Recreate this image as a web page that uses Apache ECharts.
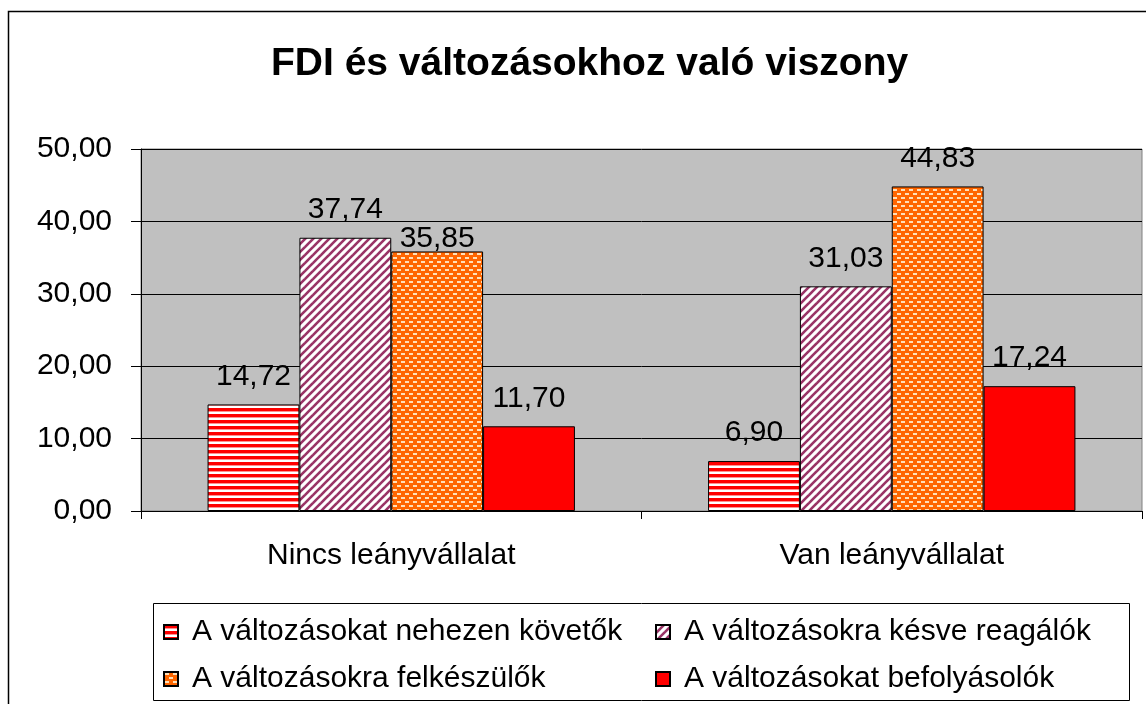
<!DOCTYPE html>
<html>
<head>
<meta charset="utf-8">
<script src="https://cdn.jsdelivr.net/npm/echarts@6/dist/echarts.min.js"></script>
<style>
html,body{margin:0;padding:0;background:#fff;}
#chart{width:1146px;height:704px;}
</style>
</head>
<body>
<div id="chart"></div>
<script>
const title = 'FDI és változásokhoz való viszony';
const categories = ['Nincs leányvállalat', 'Van leányvállalat'];
const seriesNames = [
  'A változásokat nehezen követők',
  'A változásokra késve reagálók',
  'A változásokra felkészülők',
  'A változásokat befolyásolók'
];
const valuesFollowHard = [14.72, 6.90];
const valuesLateReact = [37.74, 31.03];
const valuesPrepared = [35.85, 44.83];
const valuesInfluence = [11.70, 17.24];
const yTicks = [0, 10, 20, 30, 40, 50];

function makeCanvas(w, h, draw) {
  const c = document.createElement('canvas');
  c.width = w; c.height = h;
  const ctx = c.getContext('2d');
  draw(ctx, w, h);
  return c;
}
const stripePat = makeCanvas(6, 6, (ctx) => {
  ctx.fillStyle = '#ffffff'; ctx.fillRect(0, 0, 6, 6);
  ctx.fillStyle = '#ff0000'; ctx.fillRect(0, 0, 6, 3);
  ctx.fillStyle = '#ff9090'; ctx.fillRect(0, 3, 6, 1);
});
const diagPat = makeCanvas(8, 8, (ctx) => {
  ctx.fillStyle = '#ffffff'; ctx.fillRect(0, 0, 8, 8);
  ctx.strokeStyle = '#993366'; ctx.lineWidth = 2.6;
  for (let k = -1; k <= 1; k++) {
    ctx.beginPath();
    ctx.moveTo(-2 + k * 8, 10);
    ctx.lineTo(10 + k * 8, -2);
    ctx.stroke();
  }
});
const dotPat = makeCanvas(8, 8, (ctx) => {
  ctx.fillStyle = '#ff6600'; ctx.fillRect(0, 0, 8, 8);
  ctx.fillStyle = '#ffe0b8';
  ctx.fillRect(1, 1, 4, 2);
  ctx.fillRect(5, 5, 3, 2);
  ctx.fillRect(0, 5, 1, 2);
});
const fills = [
  { image: stripePat, repeat: 'repeat' },
  { image: diagPat, repeat: 'repeat' },
  { image: dotPat, repeat: 'repeat' },
  '#ff0000'
];
const allValues = [valuesFollowHard, valuesLateReact, valuesPrepared, valuesInfluence];
const FONT = 'Liberation Sans, Arial, sans-serif';
const FS = 30;
const fmt = v => v.toFixed(2).replace('.', ',');

const series = seriesNames.map((name, i) => ({
  name: name,
  type: 'bar',
  // the third series' first label sits lower in the original (overlap avoidance)
  data: allValues[i].map((v, j) => (i === 2 && j === 0) ? { value: v, label: { offset: [0, 15] } } : v),
  barGap: '0%',
  barCategoryGap: '26.6%',
  itemStyle: { color: fills[i], borderColor: '#000', borderWidth: 1 },
  label: {
    show: true, position: 'top', distance: 13,
    fontFamily: FONT, fontSize: FS, color: '#000',
    formatter: p => fmt(p.value)
  },
  emphasis: { disabled: true }
}));

const legendText = { fontFamily: FONT, fontSize: FS, color: '#000', lineHeight: 30, padding: [0, 0, 0, 9] };

const chart = echarts.init(document.getElementById('chart'), null, { renderer: 'canvas' });
chart.setOption({
  animation: false,
  backgroundColor: '#ffffff',
  title: {
    text: title, left: 266, top: 40,
    textStyle: { fontFamily: FONT, fontSize: 39, fontWeight: 'bold', color: '#000' }
  },
  grid: {
    left: 141, right: 4, top: 149, bottom: 193,
    show: true, backgroundColor: '#c0c0c0', borderColor: '#808080', borderWidth: 1
  },
  xAxis: {
    type: 'category', data: categories,
    axisLine: { lineStyle: { color: '#000', width: 1 } },
    axisTick: { show: true, length: 8, lineStyle: { color: '#000' } },
    axisLabel: { fontFamily: FONT, fontSize: FS, color: '#000', margin: 30 }
  },
  yAxis: {
    type: 'value', min: 0, max: 50, interval: 10,
    axisLine: { show: true, lineStyle: { color: '#000', width: 1 } },
    axisTick: { show: true, length: 10, lineStyle: { color: '#000' } },
    splitLine: { show: true, lineStyle: { color: '#000', width: 1 } },
    axisLabel: {
      fontFamily: FONT, fontSize: FS, color: '#000', margin: 29,
      formatter: v => yTicks.indexOf(v) >= 0 ? fmt(v) : ''
    }
  },
  legend: [
    {
      data: [seriesNames[0], seriesNames[2]],
      orient: 'vertical', left: 163, top: 617, itemGap: 17, padding: 0,
      itemWidth: 14, itemHeight: 14, icon: 'rect',
      textStyle: legendText, selectedMode: false
    },
    {
      data: [seriesNames[1], seriesNames[3]],
      orient: 'vertical', left: 655, top: 617, itemGap: 17, padding: 0,
      itemWidth: 14, itemHeight: 14, icon: 'rect',
      textStyle: legendText, selectedMode: false
    }
  ],
  graphic: [
    { type: 'rect', silent: true, z: -1,
      shape: { x: 8.5, y: 11.5, width: 1200, height: 800 },
      style: { fill: 'none', stroke: '#000', lineWidth: 1.5 } },
    { type: 'rect', silent: true,
      shape: { x: 153.5, y: 603.5, width: 976, height: 97 },
      style: { fill: 'none', stroke: '#000', lineWidth: 1 } }
  ],
  series: series
});
</script>
</body>
</html>
